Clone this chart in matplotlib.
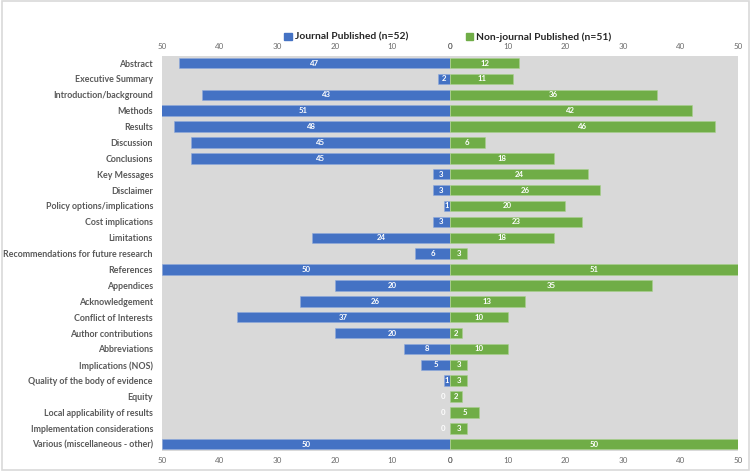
import matplotlib
matplotlib.use('Agg')
import matplotlib.pyplot as plt
from matplotlib.patches import Patch, Rectangle

plt.rcParams['font.family'] = ['Lato', 'DejaVu Sans']

# data
sections = ['Abstract', 'Executive Summary', 'Introduction/background', 'Methods', 'Results',
            'Discussion', 'Conclusions', 'Key Messages', 'Disclaimer', 'Policy options/implications',
            'Cost implications', 'Limitations', 'Recommendations for future research', 'References',
            'Appendices', 'Acknowledgement', 'Conflict of Interests', 'Author contributions',
            'Abbreviations', 'Implications (NOS)', 'Quality of the body of evidence', 'Equity',
            'Local applicability of results', 'Implementation considerations',
            'Various (miscellaneous - other)']
journal = [47, 2, 43, 51, 48, 45, 45, 3, 3, 1, 3, 24, 6, 50, 20, 26, 37, 20, 8, 5, 1, 0, 0, 0, 50]
non_journal = [12, 11, 36, 42, 46, 6, 18, 24, 26, 20, 23, 18, 3, 51, 35, 13, 10, 2, 10, 3, 3, 2, 5, 3, 50]
ticks = [0, 10, 20, 30, 40, 50]

blue = '#4472C4'
green = '#70AD47'
bg = '#D9D9D9'
tick_col = '#595959'

fig = plt.figure(figsize=(7.5, 4.71), dpi=100)
fig.patches.append(Rectangle((0.002, 0.003), 0.996, 0.994, transform=fig.transFigure,
                             fill=False, edgecolor='#d9d9d9', linewidth=1.2))

ax_l = fig.add_axes([0.216, 0.042, 0.384, 0.839])
ax_r = fig.add_axes([0.6, 0.042, 0.384, 0.839])

y = list(range(len(sections)))
h = 0.66

ax_l.barh(y, journal, height=h, color=blue, edgecolor='#8faadc', linewidth=0.4)
ax_r.barh(y, non_journal, height=h, color=green, edgecolor='#a9d18e', linewidth=0.4)

for ax in (ax_l, ax_r):
    ax.set_facecolor(bg)
    ax.set_xlim(0, 50)
    ax.set_ylim(len(sections) - 0.56, -0.44)
    ax.set_xticks(ticks)
    ax.tick_params(axis='x', which='both', top=True, bottom=True, labeltop=True, labelbottom=True,
                   length=0, labelsize=5.8, labelcolor='#6b6b6b', pad=4)
    for s in ax.spines.values():
        s.set_visible(False)
ax_l.invert_xaxis()

ax_l.set_yticks(y)
ax_l.set_yticklabels(sections, fontsize=6.4, fontweight='bold', color=tick_col)
ax_l.tick_params(axis='y', length=0, pad=6.5)
ax_r.set_yticks([])

for i, v in enumerate(journal):
    xpos = v / 2 if v > 0 else 1.2
    ax_l.text(xpos, i, str(v), ha='center', va='center', color='white',
              fontsize=5.6, fontweight='bold')
for i, v in enumerate(non_journal):
    xpos = min(v, 50) / 2
    ax_r.text(xpos, i, str(v), ha='center', va='center', color='white',
              fontsize=5.6, fontweight='bold')

handles = [Patch(color=blue, label='Journal Published (n=52)'),
           Patch(color=green, label='Non-journal Published (n=51)')]
fig.legend(handles=handles, loc='center', bbox_to_anchor=(0.597, 0.921), ncol=2, frameon=False,
           handlelength=0.7, handleheight=0.7, handletextpad=0.3, columnspacing=5.6,
           prop={'weight': 'bold', 'size': 7.4})
for t in fig.legends[0].get_texts():
    t.set_color('#262626')

fig.savefig('out.png', dpi=100)
